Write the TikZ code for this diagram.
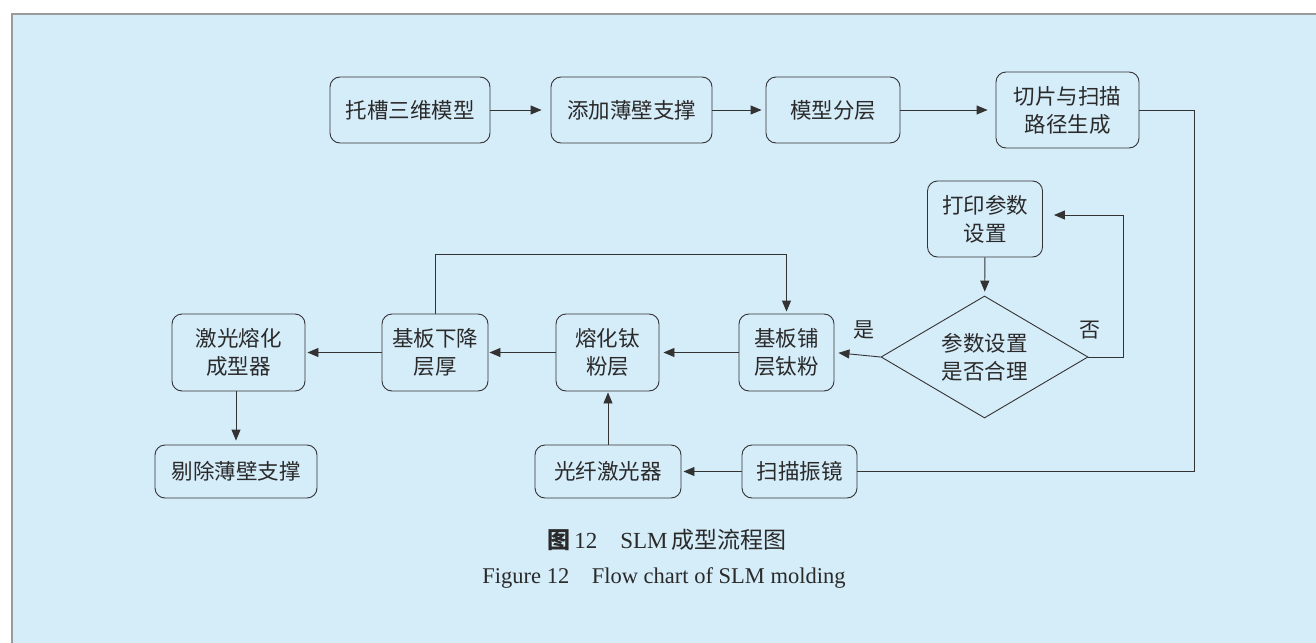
\documentclass[tikz,border=0pt]{standalone}
\usepackage{fontspec}
\setmainfont{Liberation Serif}
\newfontfamily\cjk{Noto Sans CJK SC}
\usetikzlibrary{arrows.meta,shapes.geometric,calc}
\definecolor{panel}{HTML}{D5ECF9}
\definecolor{framegray}{HTML}{9A9A9A}
\definecolor{linegray}{HTML}{333333}
\definecolor{textdark}{HTML}{2A2A2A}
\begin{document}
\begin{tikzpicture}[x=1pt,y=-1pt,
  box/.style={draw=linegray, rounded corners=10pt, line width=0.9pt, align=center,
    inner sep=0pt, text=textdark, font=\cjk\fontsize{21.5}{28}\selectfont},
  decision/.style={draw=linegray, diamond, aspect=1.7, line width=0.9pt, align=center,
    inner sep=0pt, text=textdark, font=\cjk\fontsize{21.5}{28}\selectfont,
    minimum width=207pt, minimum height=122pt},
  link/.style={draw=linegray, line width=0.9pt},
  arr/.style={link, -{Triangle[length=11pt,width=9pt]}, shorten >=4pt},
  tag/.style={text=textdark, font=\cjk\fontsize{21}{24}\selectfont, inner sep=0pt}]

% page and panel
\useasboundingbox (0,0) rectangle (1316,642);
\fill[white] (0,0) rectangle (1316,642);
\begin{scope}
  \clip (0,0) rectangle (1316,642);
  \draw[framegray, fill=panel, line width=1.6pt] (12,14) rectangle (1340,670);
\end{scope}

% top row
\node[box, minimum width=160pt, minimum height=66pt] (model) at (410,110) {托槽三维模型};
\node[box, minimum width=161pt, minimum height=66pt] (support) at (631.5,110) {添加薄壁支撑};
\node[box, minimum width=134pt, minimum height=66pt] (layer) at (833,110) {模型分层};
\node[box, minimum width=143pt, minimum height=76pt] (slice) at (1067.5,110) {切片与扫描\\路径生成};

% parameter check
\node[box, minimum width=115pt, minimum height=76pt] (param) at (985,219) {打印参数\\设置};
\node[decision] (check) at (984.5,357) {参数设置\\是否合理};

% middle row
\node[box, minimum width=95pt, minimum height=77pt] (spread) at (786.5,352.5) {基板铺\\层钛粉};
\node[box, minimum width=103pt, minimum height=77pt] (melt) at (607.5,352.5) {熔化钛\\粉层};
\node[box, minimum width=106pt, minimum height=77pt] (lower) at (435,352.5) {基板下降\\层厚};
\node[box, minimum width=133pt, minimum height=77pt] (machine) at (238.5,352.5) {激光熔化\\成型器};

% bottom row
\node[box, minimum width=162pt, minimum height=53pt] (remove) at (236,471.5) {剔除薄壁支撑};
\node[box, minimum width=146pt, minimum height=53pt] (fiber) at (608,471.5) {光纤激光器};
\node[box, minimum width=115pt, minimum height=53pt] (scan) at (799.5,471.5) {扫描振镜};

% branch labels
\node[tag] (yes) at (864,330) {是};
\node[tag] (no) at (1090,330) {否};

% connectors
\draw[arr, shorten >=9pt] (model) -- (support);
\draw[arr] (support) -- (layer);
\draw[arr, shorten >=8pt] (layer) -- (slice);
\coordinate (sliceturn) at (1194,110);
\draw[link] (slice.east) -- (sliceturn) |- (scan.east);
\draw[arr] (param) -- (check);
\coordinate (noturn) at (1123,215);
\draw[arr, shorten >=11pt] (check.east) -| (noturn) -- (param.east |- noturn);
\draw[arr] (check.west) -- (spread.east);
\draw[arr] (spread) -- (melt);
\draw[arr, shorten >=1pt] (melt) -- (lower);
\draw[arr, shorten >=2pt] (lower) -- (machine);
\draw[arr, shorten >=2pt] (lower.north) -- ++(0,-59) -| (spread.north);
\draw[arr] (machine.south -| remove.north) -- (remove.north);
\draw[arr, shorten >=1pt] (fiber.north) -- (fiber.north |- melt.south);
\draw[arr, shorten >=2pt] (scan) -- (fiber);

% caption
\node[text=textdark, font=\fontsize{23}{26}\selectfont, inner sep=0pt] (capcn) at (667,540)
  {{\cjk\bfseries 图}\,12\quad SLM\,{\cjk 成型流程图}};
\node[text=textdark, font=\fontsize{22.5}{26}\selectfont, inner sep=0pt] (capen) at (664,578)
  {Figure 12\quad Flow chart of SLM molding};
\end{tikzpicture}
\end{document}
